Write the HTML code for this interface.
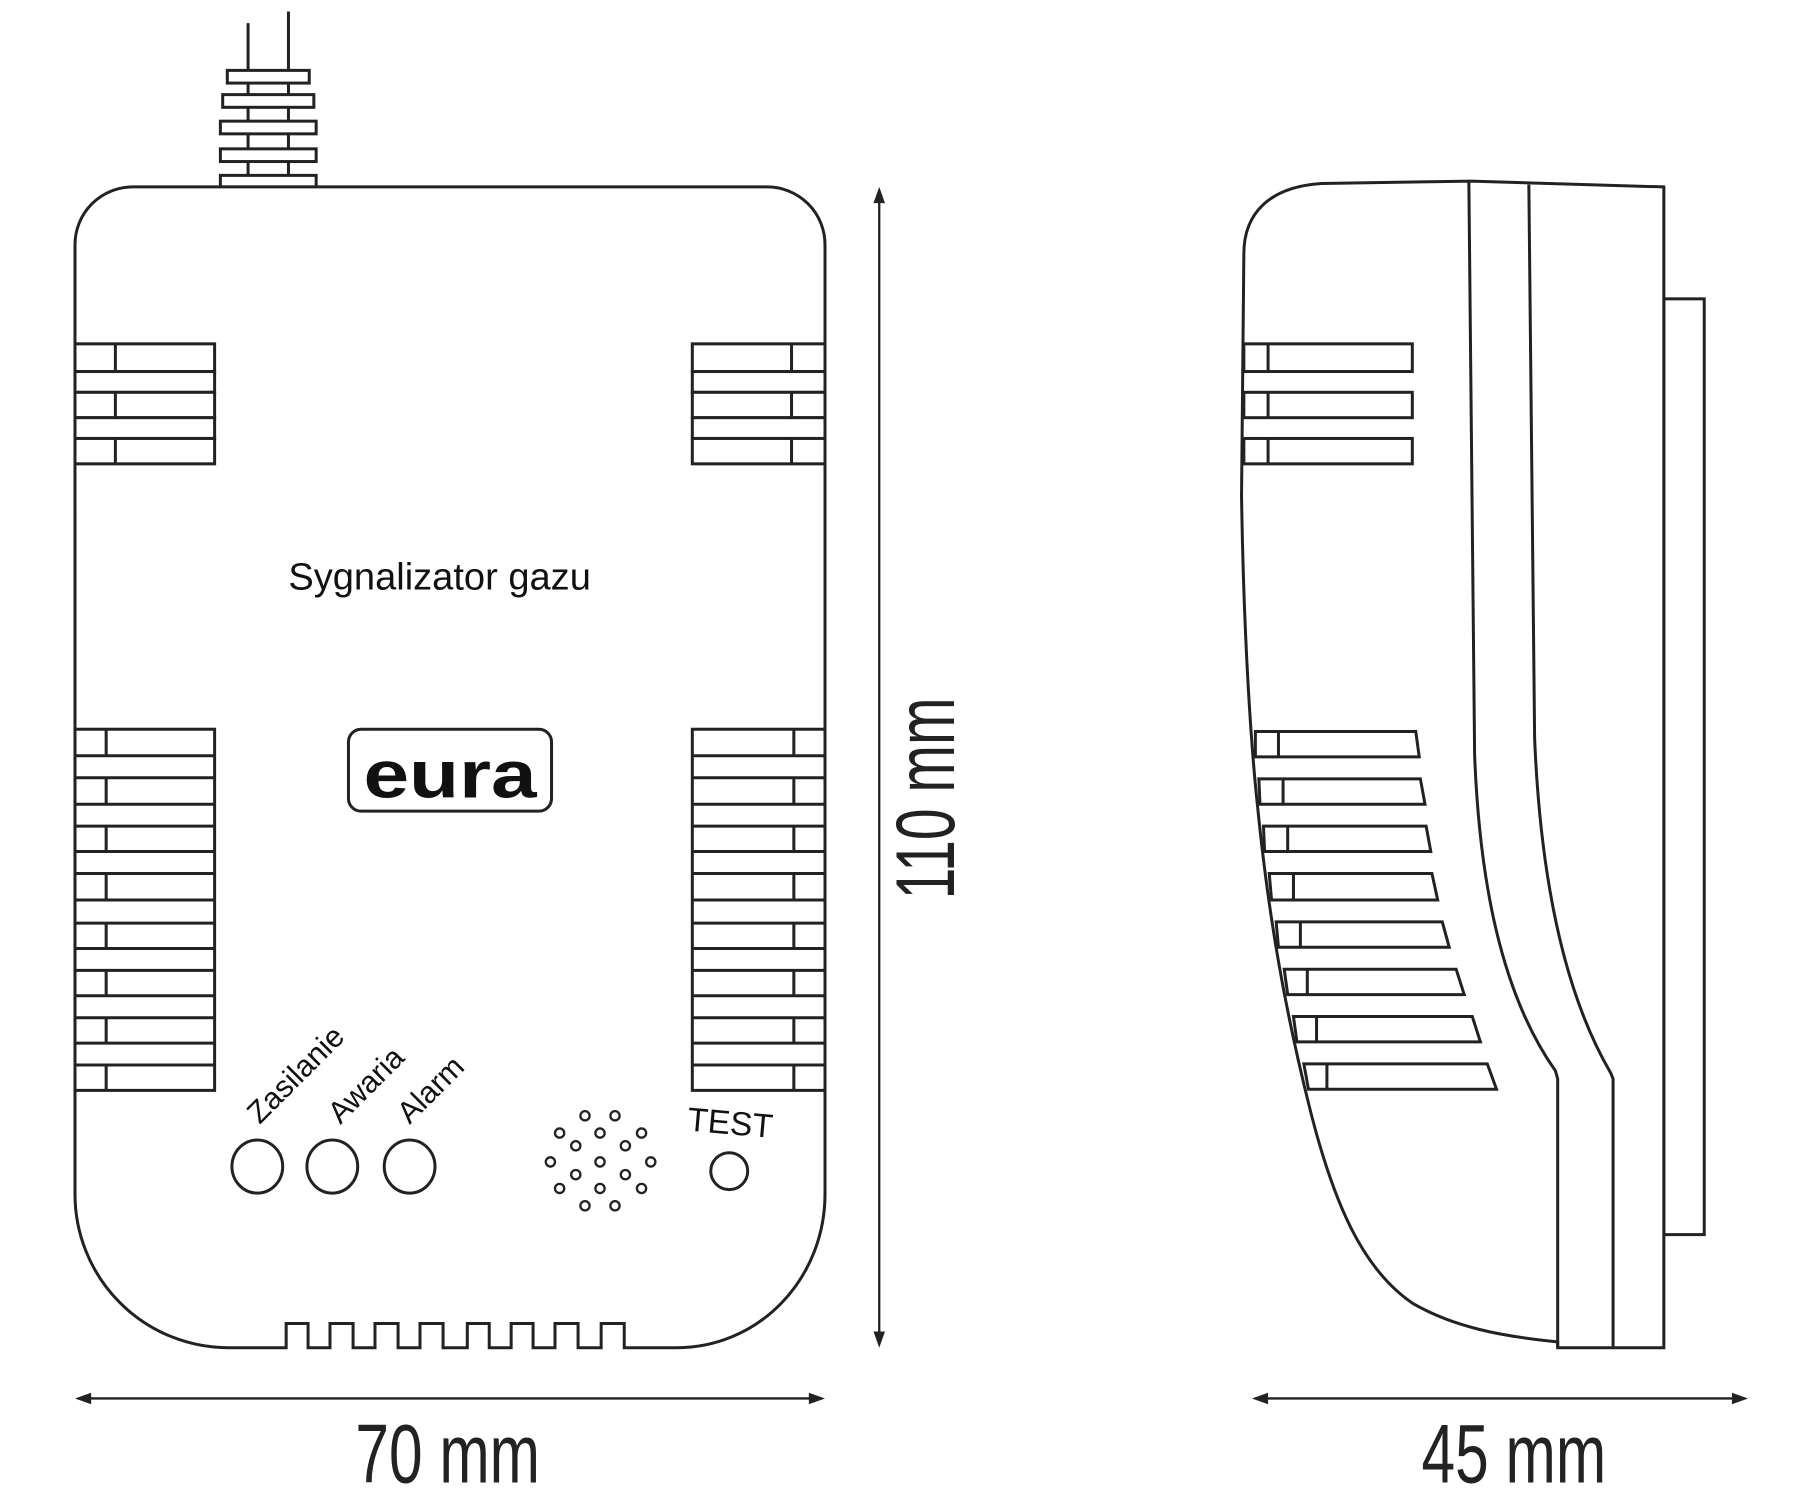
<!DOCTYPE html>
<html><head><meta charset="utf-8"><style>html,body{margin:0;padding:0;background:#fff}svg{display:block}</style></head><body>
<svg width="1800" height="1500" viewBox="0 0 1560 1300" xmlns="http://www.w3.org/2000/svg">
<g fill="none" stroke="#222" stroke-width="2.6">
<line x1="215" y1="20" x2="215" y2="160"/>
<line x1="250" y1="10" x2="250" y2="160"/>
<g fill="#fff">
<rect x="197" y="61" width="71" height="11"/>
<rect x="193" y="82" width="79" height="11"/>
<rect x="191" y="105" width="83" height="11"/>
<rect x="191" y="129" width="83" height="11"/>
<rect x="191" y="152" width="83" height="10"/>
</g>
<path fill="#fff" d="M65,212 A50,50 0 0 1 115,162 L665,162 A50,50 0 0 1 715,212 L715,1035 A128,133 0 0 1 587,1168 L541,1168 L541,1147 L521,1147 L521,1168 L501,1168 L501,1147 L481,1147 L481,1168 L462,1168 L462,1147 L443,1147 L443,1168 L424,1168 L424,1147 L405,1147 L405,1168 L384,1168 L384,1147 L364,1147 L364,1168 L345,1168 L345,1147 L325,1147 L325,1168 L306,1168 L306,1147 L286,1147 L286,1168 L267,1168 L267,1147 L248,1147 L248,1168 L198,1168 A133,133 0 0 1 65,1035 Z"/>
<g fill="#fff">
<rect x="65" y="298" width="121" height="24"/><rect x="65" y="322" width="121" height="18"/><rect x="65" y="340" width="121" height="22"/><rect x="65" y="362" width="121" height="18"/><rect x="65" y="380" width="121" height="22"/>
<rect x="600" y="298" width="115" height="24"/><rect x="600" y="322" width="115" height="18"/><rect x="600" y="340" width="115" height="22"/><rect x="600" y="362" width="115" height="18"/><rect x="600" y="380" width="115" height="22"/>
</g>
<path d="M100,298V322M100,340V362M100,380V402M686,298V322M686,340V362M686,380V402"/>
<g fill="#fff">
<rect x="65" y="632" width="121" height="313"/>
<rect x="600" y="632" width="115" height="313"/>
</g>
<path d="M65,655H186M65,674H186M65,697H186M65,716H186M65,738H186M65,757H186M65,780H186M65,800H186M65,822H186M65,841H186M65,863H186M65,882H186M65,904H186M65,923H186
M600,655H715M600,674H715M600,697H715M600,716H715M600,738H715M600,757H715M600,780H715M600,800H715M600,822H715M600,841H715M600,863H715M600,882H715M600,904H715M600,923H715
M92,632V655M92,674V697M92,716V738M92,757V780M92,800V822M92,841V863M92,882V904M92,923V945
M688,632V655M688,674V697M688,716V738M688,757V780M688,800V822M688,841V863M688,882V904M688,923V945"/>
<rect x="302" y="632" width="176" height="71" rx="11"/>
<ellipse cx="223" cy="1011" rx="22" ry="23"/>
<ellipse cx="288" cy="1011" rx="22" ry="23"/>
<ellipse cx="355" cy="1011" rx="22" ry="23"/>
<circle cx="632" cy="1015" r="16"/>
<g stroke-width="2">
<circle cx="507" cy="967" r="4"/><circle cx="533" cy="967" r="4"/>
<circle cx="485" cy="982" r="4"/><circle cx="520" cy="982" r="4"/><circle cx="556" cy="982" r="4"/>
<circle cx="499" cy="993" r="4"/><circle cx="542" cy="993" r="4"/>
<circle cx="477" cy="1007" r="4"/><circle cx="520" cy="1007" r="4"/><circle cx="564" cy="1007" r="4"/>
<circle cx="499" cy="1018" r="4"/><circle cx="542" cy="1018" r="4"/>
<circle cx="485" cy="1030" r="4"/><circle cx="520" cy="1030" r="4"/><circle cx="556" cy="1030" r="4"/>
<circle cx="507" cy="1045" r="4"/><circle cx="533" cy="1045" r="4"/>
</g>
<g stroke-width="2">
<line x1="762" y1="172" x2="762" y2="1158"/>
<line x1="75" y1="1212" x2="705" y2="1212"/>
<line x1="1095" y1="1212" x2="1505" y2="1212"/>
</g>
<rect x="1442" y="259" width="35" height="811" fill="#fff"/>
<path fill="#fff" d="M1442,162 L1275,157 L1145,159 C1100,162 1078,185 1078,220 L1076,430 C1078,560 1085,654 1090,700 C1100,800 1115,880 1135,960 C1155,1040 1180,1100 1225,1130 C1260,1150 1300,1158 1350,1163 L1350,1168 L1442,1168 Z"/>
<path d="M1273,157 L1278,654 C1282,760 1300,860 1348,928 L1350,935 L1350,1168"/>
<path d="M1325,160 L1330,640 C1335,760 1355,860 1396,930 L1398,935 L1398,1168"/>
<g fill="#fff">
<rect x="1078" y="298" width="146" height="24"/><rect x="1078" y="340" width="146" height="22"/><rect x="1078" y="380" width="146" height="22"/>
</g>
<path d="M1099,298V322M1099,340V362M1099,380V402"/>
<g fill="#fff">
<polygon points="1088,634 1227,634 1230,656 1088,656"/>
<polygon points="1091,675 1231,675 1235,697 1092,697"/>
<polygon points="1095,716 1236,716 1240,738 1096,738"/>
<polygon points="1100,757 1241,757 1246,780 1102,780"/>
<polygon points="1106,799 1250,799 1256,821 1108,821"/>
<polygon points="1113,840 1262,840 1269,862 1116,862"/>
<polygon points="1121,881 1276,881 1283,903 1124,903"/>
<polygon points="1130,922 1289,922 1297,944 1134,944"/>
</g>
<path d="M1108,634V656M1112,675V697M1116,716V738M1121,757V780M1127,799V821M1133,840V862M1141,881V903M1150,922V944"/>
</g>
<g fill="#222">
<polygon points="762,162 757,176 767,176"/>
<polygon points="762,1168 757,1154 767,1154"/>
<polygon points="65,1212 79,1207 79,1217"/>
<polygon points="715,1212 701,1207 701,1217"/>
<polygon points="1085,1212 1099,1207 1099,1217"/>
<polygon points="1515,1212 1501,1207 1501,1217"/>
</g>
<g font-family="Liberation Sans, sans-serif" fill="#111">
<text x="381" y="511" font-size="33" text-anchor="middle">Sygnalizator gazu</text>
<text x="390" y="691" font-size="58" font-weight="bold" text-anchor="middle" textLength="150" lengthAdjust="spacingAndGlyphs">eura</text>
<text x="0" y="0" font-size="26.5" transform="translate(225,975) rotate(-45)">Zasilanie</text>
<text x="0" y="0" font-size="26.5" transform="translate(295,975) rotate(-45)">Awaria</text>
<text x="0" y="0" font-size="26.5" transform="translate(355,975) rotate(-45)">Alarm</text>
<text x="0" y="0" font-size="29" text-anchor="middle" transform="translate(632,983) rotate(5)">TEST</text>
<text x="388" y="1285" font-size="72" text-anchor="middle" textLength="160" lengthAdjust="spacingAndGlyphs" fill="#222">70 mm</text>
<text x="1312" y="1285" font-size="72" text-anchor="middle" textLength="160" lengthAdjust="spacingAndGlyphs" fill="#222">45 mm</text>
<text x="0" y="0" font-size="72" text-anchor="middle" textLength="175" lengthAdjust="spacingAndGlyphs" fill="#222" transform="translate(827,692) rotate(-90)">110 mm</text>
</g>
</svg>
</body></html>
